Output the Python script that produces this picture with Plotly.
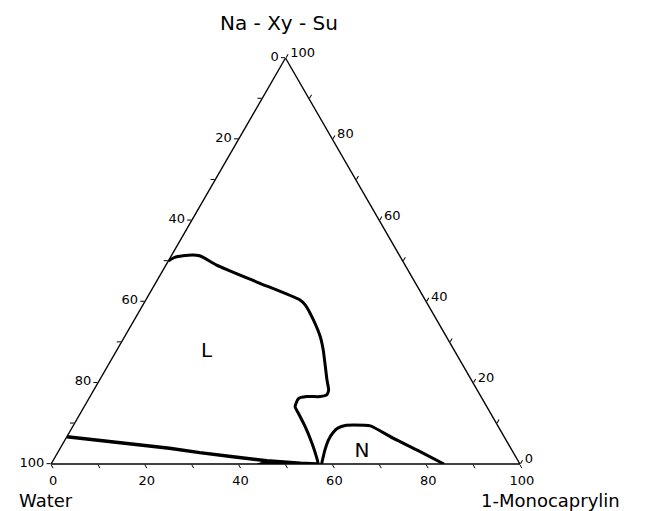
import plotly.graph_objects as go

# ---- data (percent) ----
# component a = Na-Xy-Su (top), b = Water (bottom-left), c = 1-Monocaprylin (bottom-right)
L_naxysu = [50.0, 50.9, 51.3, 51.5, 51.3, 50.7, 49.0, 44.7, 40.4, 39.2,
            35.5, 31.4, 28.1, 24.0, 20.7, 18.2, 17.0, 16.6, 16.6, 16.1, 14.1, 12.5, 9.2,
            5.1, 1.4, 0.0]
L_mono = [0.0, 0.9, 2.5, 4.5, 6.0, 7.4, 10.8, 21.8, 32.9, 34.6,
          38.2, 41.7, 44.0, 46.5, 48.5, 50.1, 50.3, 49.1, 46.2, 44.7, 45.0, 46.5, 49.6,
          53.1, 56.0, 57.0]

W_naxysu = [6.7, 3.9, 2.8, 1.8, 0.8, 0.2, 0.0]
W_mono = [0.0, 23.3, 30.3, 37.9, 45.6, 53.1, 56.7]

wedge_naxysu = [0.0, 0.8, 0.5, 0.2, 0.0, 0.0]
wedge_mono = [44.0, 45.6, 49.0, 53.1, 57.0, 44.0]

N_naxysu = [0.0, 3.4, 5.9, 7.9, 8.9, 9.5, 9.6, 9.4, 6.3, 3.4, 0.0]
N_mono = [57.7, 56.7, 56.2, 56.3, 56.8, 58.0, 59.7, 63.4, 69.9, 76.4, 83.8]

region_names = ["L", "N"]
region_naxysu = [27.7, 3.0]
region_mono = [19.3, 64.8]

tick_vals = [0, 10, 20, 30, 40, 50, 60, 70, 80, 90, 100]
tick_labels = ["0", "20", "40", "60", "80", "100"]


def water(a_list, c_list):
    return [100 - a - c for a, c in zip(a_list, c_list)]


def reversed_text(vals):
    out = []
    for v in vals:
        r = 100 - v
        out.append(str(r) if str(r) in tick_labels else "")
    return out


FONT = "DejaVu Sans"
fig = go.Figure()

fig.add_trace(go.Scatterternary(a=L_naxysu, b=water(L_naxysu, L_mono), c=L_mono,
                                mode="lines", line=dict(color="black", width=3, shape="spline", smoothing=0.5),
                                showlegend=False, hoverinfo="skip"))
fig.add_trace(go.Scatterternary(a=W_naxysu, b=water(W_naxysu, W_mono), c=W_mono,
                                mode="lines", line=dict(color="black", width=3.5),
                                showlegend=False, hoverinfo="skip"))
fig.add_trace(go.Scatterternary(a=wedge_naxysu, b=water(wedge_naxysu, wedge_mono), c=wedge_mono,
                                mode="lines", fill="toself", fillcolor="black",
                                line=dict(color="black", width=1),
                                showlegend=False, hoverinfo="skip"))
fig.add_trace(go.Scatterternary(a=N_naxysu, b=water(N_naxysu, N_mono), c=N_mono,
                                mode="lines", line=dict(color="black", width=3, shape="spline", smoothing=0.5),
                                showlegend=False, hoverinfo="skip"))
fig.add_trace(go.Scatterternary(a=region_naxysu, b=water(region_naxysu, region_mono), c=region_mono,
                                mode="text", text=region_names,
                                textfont=dict(family=FONT, size=20, color="black"),
                                showlegend=False, hoverinfo="skip"))

axis_common = dict(
    tickmode="array", tickvals=tick_vals, ticktext=reversed_text(tick_vals),
    ticks="outside", ticklen=4, tickwidth=1.2, tickcolor="black",
    showgrid=False, showline=True, linecolor="black", linewidth=1.4,
    tickfont=dict(family=FONT, size=13, color="black"),
    title=dict(text=""), min=0,
)

fig.update_layout(
    width=639, height=503,
    margin=dict(l=32, r=116, t=50, b=47),
    paper_bgcolor="white",
    ternary=dict(
        sum=100,
        bgcolor="white",
        domain=dict(x=[0, 1], y=[0, 1]),
        aaxis=axis_common,
        baxis=axis_common,
        caxis=axis_common,
    ),
    annotations=[
        dict(text="Na - Xy - Su", x=0.487, y=1.086, xref="paper", yref="paper",
             xanchor="center", yanchor="middle",
             showarrow=False, font=dict(family=FONT, size=20, color="black")),
        dict(text="Water", x=0.012, y=-0.0887, xref="paper", yref="paper",
             xanchor="center", yanchor="middle",
             showarrow=False, font=dict(family=FONT, size=18, color="black")),
        dict(text="1-Monocaprylin", x=1.04, y=-0.0887, xref="paper", yref="paper",
             xanchor="center", yanchor="middle",
             showarrow=False, font=dict(family=FONT, size=18, color="black")),
    ],
)

fig.write_html("out.html")
